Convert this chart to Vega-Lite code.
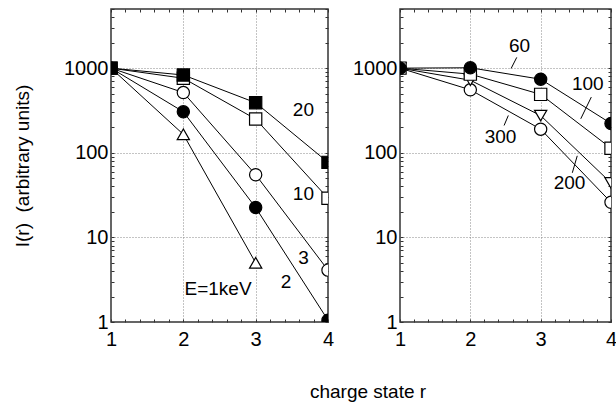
{
  "$schema": "https://vega.github.io/schema/vega-lite/v6.json",
  "padding": {"left": 12, "top": 7, "right": 3, "bottom": 5},
  "background": "white",
  "config": {
    "view": {"stroke": "#333", "strokeWidth": 1.5},
    "font": "Liberation Sans",
    "axis": {"labelFont": "Liberation Sans", "titleFont": "Liberation Sans", "labelColor": "black", "titleColor": "black"}
  },
  "title": {"text": "charge state r", "orient": "bottom", "anchor": "middle", "frame": "group", "offset": 33, "dx": 257, "fontSize": 19, "fontWeight": "normal", "font": "Liberation Sans", "color": "black"},
  "bounds": "flush",
  "spacing": 72,
  "datasets": {
    "pts": [
      {"panel": "L", "E": "1", "r": 1, "I": 1000}, {"panel": "L", "E": "1", "r": 2, "I": 165}, {"panel": "L", "E": "1", "r": 3, "I": 5.0},
      {"panel": "L", "E": "2", "r": 1, "I": 1000}, {"panel": "L", "E": "2", "r": 2, "I": 305}, {"panel": "L", "E": "2", "r": 3, "I": 22.5}, {"panel": "L", "E": "2", "r": 4, "I": 1.05},
      {"panel": "L", "E": "3", "r": 1, "I": 1000}, {"panel": "L", "E": "3", "r": 2, "I": 515}, {"panel": "L", "E": "3", "r": 3, "I": 55}, {"panel": "L", "E": "3", "r": 4, "I": 4.1},
      {"panel": "L", "E": "10", "r": 1, "I": 1000}, {"panel": "L", "E": "10", "r": 2, "I": 760}, {"panel": "L", "E": "10", "r": 3, "I": 250}, {"panel": "L", "E": "10", "r": 4, "I": 29},
      {"panel": "L", "E": "20", "r": 1, "I": 1000}, {"panel": "L", "E": "20", "r": 2, "I": 830}, {"panel": "L", "E": "20", "r": 3, "I": 390}, {"panel": "L", "E": "20", "r": 4, "I": 77},
      {"panel": "R", "E": "300", "r": 1, "I": 1000}, {"panel": "R", "E": "300", "r": 2, "I": 555}, {"panel": "R", "E": "300", "r": 3, "I": 190}, {"panel": "R", "E": "300", "r": 4, "I": 26},
      {"panel": "R", "E": "200", "r": 1, "I": 1000}, {"panel": "R", "E": "200", "r": 2, "I": 720}, {"panel": "R", "E": "200", "r": 3, "I": 275}, {"panel": "R", "E": "200", "r": 4, "I": 44},
      {"panel": "R", "E": "100", "r": 1, "I": 1000}, {"panel": "R", "E": "100", "r": 2, "I": 850}, {"panel": "R", "E": "100", "r": 3, "I": 490}, {"panel": "R", "E": "100", "r": 4, "I": 113},
      {"panel": "R", "E": "60", "r": 1, "I": 1000}, {"panel": "R", "E": "60", "r": 2, "I": 1010}, {"panel": "R", "E": "60", "r": 3, "I": 740}, {"panel": "R", "E": "60", "r": 4, "I": 222}
    ],
    "labs": [
      {"panel": "L", "x": 3.66, "y": 316, "t": "20"},
      {"panel": "L", "x": 3.66, "y": 32.8, "t": "10"},
      {"panel": "L", "x": 3.66, "y": 5.78, "t": "3"},
      {"panel": "L", "x": 3.42, "y": 2.99, "t": "2"},
      {"panel": "L", "x": 2.48, "y": 2.45, "t": "E=1keV"},
      {"panel": "R", "x": 2.70, "y": 1830, "t": "60"},
      {"panel": "R", "x": 3.67, "y": 646, "t": "100"},
      {"panel": "R", "x": 2.43, "y": 152, "t": "300"},
      {"panel": "R", "x": 3.41, "y": 44.3, "t": "200"}
    ],
    "leads": [
      {"panel": "R", "x": 2.66, "y": 1340, "x2": 2.58, "y2": 992},
      {"panel": "R", "x": 3.72, "y": 455, "x2": 3.57, "y2": 252},
      {"panel": "R", "x": 2.54, "y": 276, "x2": 2.48, "y2": 210},
      {"panel": "R", "x": 3.52, "y": 92, "x2": 3.45, "y2": 58}
    ]
  },
  "hconcat": [
    {
      "width": 217,
      "height": 313,
      "resolve": {"axis": {"x": "independent", "y": "independent"}},
      "layer": [
        {
          "data": {"name": "pts"},
          "transform": [{"filter": "datum.panel === 'L'"}],
          "mark": {"type": "line", "color": "black", "strokeWidth": 1, "clip": true},
          "encoding": {
            "x": {"field": "r", "type": "quantitative", "scale": {"domain": [1, 4], "nice": false, "zero": false},
              "axis": {"title": null, "values": [1, 1.2, 1.4, 1.6, 1.8, 2, 2.2, 2.4, 2.6, 2.8, 3, 3.2, 3.4, 3.6, 3.8, 4],
                "labelExpr": "indexof([1,2,3,4], datum.value) >= 0 ? format(datum.value, 'd') : ''",
                "labelFontSize": {"condition": {"test": "indexof([1,2,3,4], datum.value) >= 0", "value": 20}, "value": 0},
                "labelPadding": 10, "labelOverlap": false, "labelFlush": false,
                "domain": false, "tickColor": "#333", "tickSize": -3,
                "grid": true, "gridColor": "#888", "gridDash": [1, 2],
                "gridOpacity": {"condition": {"test": "indexof([2,3], datum.value) >= 0", "value": 1}, "value": 0}}},
            "y": {"field": "I", "type": "quantitative", "scale": {"type": "log", "domain": [1, 5000], "nice": false},
              "axis": {"title": "I(r) \u00a0(arbitrary units)", "titleFontSize": 19, "titleFontWeight": "normal", "titlePadding": 31,
                "values": [1, 2, 3, 4, 5, 6, 7, 8, 9, 10, 20, 30, 40, 50, 60, 70, 80, 90, 100, 200, 300, 400, 500, 600, 700, 800, 900, 1000, 2000, 3000, 4000, 5000],
                "labelExpr": "indexof([1,10,100,1000], datum.value) >= 0 ? format(datum.value, 'd') : ''",
                "labelFontSize": {"condition": {"test": "indexof([1,10,100,1000], datum.value) >= 0", "value": 20}, "value": 0},
                "labelPadding": 6, "labelOverlap": false, "labelFlush": false,
                "domain": false, "tickColor": "#333", "tickSize": -3,
                "grid": true, "gridColor": "#888", "gridDash": [1, 2],
                "gridOpacity": {"condition": {"test": "indexof([10,100,1000], datum.value) >= 0", "value": 1}, "value": 0}}},
            "detail": {"field": "E"},
            "order": {"field": "r"}
          }
        },
        {
          "data": {"name": "pts"},
          "transform": [{"filter": "datum.panel === 'L'"}],
          "mark": {"type": "point", "opacity": 0},
          "encoding": {
            "x": {"field": "r", "type": "quantitative",
              "axis": {"orient": "top", "title": null, "labels": false, "domain": false, "grid": false, "tickColor": "#333", "tickSize": -3, "minExtent": 0,
                "values": [1, 1.2, 1.4, 1.6, 1.8, 2, 2.2, 2.4, 2.6, 2.8, 3, 3.2, 3.4, 3.6, 3.8, 4]}},
            "y": {"field": "I", "type": "quantitative",
              "axis": {"orient": "right", "title": null, "labels": false, "domain": false, "grid": false, "tickColor": "#333", "tickSize": -3, "minExtent": 0,
                "values": [1, 2, 3, 4, 5, 6, 7, 8, 9, 10, 20, 30, 40, 50, 60, 70, 80, 90, 100, 200, 300, 400, 500, 600, 700, 800, 900, 1000, 2000, 3000, 4000, 5000]}}
          }
        },
        {
          "data": {"name": "pts"},
          "transform": [{"filter": "datum.panel === 'L'"}],
          "mark": {"type": "point", "filled": true, "stroke": "black", "strokeWidth": 1.2, "size": 150, "opacity": 1, "clip": true},
          "encoding": {
            "x": {"field": "r", "type": "quantitative", "axis": null},
            "y": {"field": "I", "type": "quantitative", "axis": null},
            "shape": {"field": "E", "type": "nominal", "legend": null,
              "scale": {"domain": ["20", "10", "3", "2", "1", "60", "100", "200", "300"], "range": ["square", "square", "circle", "circle", "triangle-up", "circle", "square", "triangle-down", "circle"]}},
            "fill": {"field": "E", "type": "nominal", "legend": null,
              "scale": {"domain": ["20", "10", "3", "2", "1", "60", "100", "200", "300"], "range": ["black", "white", "white", "black", "white", "black", "white", "white", "white"]}}
          }
        },
        {
          "data": {"name": "labs"},
          "transform": [{"filter": "datum.panel === 'L'"}],
          "mark": {"type": "text", "fontSize": 19, "font": "Liberation Sans", "color": "black", "align": "center", "baseline": "middle"},
          "encoding": {
            "x": {"field": "x", "type": "quantitative", "axis": null},
            "y": {"field": "y", "type": "quantitative", "axis": null},
            "text": {"field": "t"}
          }
        }
      ]
    },
    {
      "width": 211,
      "height": 313,
      "resolve": {"axis": {"x": "independent", "y": "independent"}},
      "layer": [
        {
          "data": {"name": "pts"},
          "transform": [{"filter": "datum.panel === 'R'"}],
          "mark": {"type": "line", "color": "black", "strokeWidth": 1, "clip": true},
          "encoding": {
            "x": {"field": "r", "type": "quantitative", "scale": {"domain": [1, 4], "nice": false, "zero": false},
              "axis": {"title": null, "values": [1, 1.2, 1.4, 1.6, 1.8, 2, 2.2, 2.4, 2.6, 2.8, 3, 3.2, 3.4, 3.6, 3.8, 4],
                "labelExpr": "indexof([1,2,3,4], datum.value) >= 0 ? format(datum.value, 'd') : ''",
                "labelFontSize": {"condition": {"test": "indexof([1,2,3,4], datum.value) >= 0", "value": 20}, "value": 0},
                "labelPadding": 10, "labelOverlap": false, "labelFlush": false,
                "domain": false, "tickColor": "#333", "tickSize": -3,
                "grid": true, "gridColor": "#888", "gridDash": [1, 2],
                "gridOpacity": {"condition": {"test": "indexof([2,3], datum.value) >= 0", "value": 1}, "value": 0}}},
            "y": {"field": "I", "type": "quantitative", "scale": {"type": "log", "domain": [1, 5000], "nice": false},
              "axis": {"title": null,
                "values": [1, 2, 3, 4, 5, 6, 7, 8, 9, 10, 20, 30, 40, 50, 60, 70, 80, 90, 100, 200, 300, 400, 500, 600, 700, 800, 900, 1000, 2000, 3000, 4000, 5000],
                "labelExpr": "indexof([1,10,100,1000], datum.value) >= 0 ? format(datum.value, 'd') : ''",
                "labelFontSize": {"condition": {"test": "indexof([1,10,100,1000], datum.value) >= 0", "value": 20}, "value": 0},
                "labelPadding": 6, "labelOverlap": false, "labelFlush": false,
                "domain": false, "tickColor": "#333", "tickSize": -3,
                "grid": true, "gridColor": "#888", "gridDash": [1, 2],
                "gridOpacity": {"condition": {"test": "indexof([10,100,1000], datum.value) >= 0", "value": 1}, "value": 0}}},
            "detail": {"field": "E"},
            "order": {"field": "r"}
          }
        },
        {
          "data": {"name": "pts"},
          "transform": [{"filter": "datum.panel === 'R'"}],
          "mark": {"type": "point", "opacity": 0},
          "encoding": {
            "x": {"field": "r", "type": "quantitative",
              "axis": {"orient": "top", "title": null, "labels": false, "domain": false, "grid": false, "tickColor": "#333", "tickSize": -3, "minExtent": 0,
                "values": [1, 1.2, 1.4, 1.6, 1.8, 2, 2.2, 2.4, 2.6, 2.8, 3, 3.2, 3.4, 3.6, 3.8, 4]}},
            "y": {"field": "I", "type": "quantitative",
              "axis": {"orient": "right", "title": null, "labels": false, "domain": false, "grid": false, "tickColor": "#333", "tickSize": -3, "minExtent": 0,
                "values": [1, 2, 3, 4, 5, 6, 7, 8, 9, 10, 20, 30, 40, 50, 60, 70, 80, 90, 100, 200, 300, 400, 500, 600, 700, 800, 900, 1000, 2000, 3000, 4000, 5000]}}
          }
        },
        {
          "data": {"name": "leads"},
          "transform": [{"filter": "datum.panel === 'R'"}],
          "mark": {"type": "rule", "color": "black", "strokeWidth": 1},
          "encoding": {
            "x": {"field": "x", "type": "quantitative", "axis": null},
            "y": {"field": "y", "type": "quantitative", "axis": null},
            "x2": {"field": "x2"},
            "y2": {"field": "y2"}
          }
        },
        {
          "data": {"name": "pts"},
          "transform": [{"filter": "datum.panel === 'R'"}],
          "mark": {"type": "point", "filled": true, "stroke": "black", "strokeWidth": 1.2, "size": 150, "opacity": 1, "clip": true},
          "encoding": {
            "x": {"field": "r", "type": "quantitative", "axis": null},
            "y": {"field": "I", "type": "quantitative", "axis": null},
            "shape": {"field": "E", "type": "nominal", "legend": null,
              "scale": {"domain": ["20", "10", "3", "2", "1", "60", "100", "200", "300"], "range": ["square", "square", "circle", "circle", "triangle-up", "circle", "square", "triangle-down", "circle"]}},
            "fill": {"field": "E", "type": "nominal", "legend": null,
              "scale": {"domain": ["20", "10", "3", "2", "1", "60", "100", "200", "300"], "range": ["black", "white", "white", "black", "white", "black", "white", "white", "white"]}}
          }
        },
        {
          "data": {"name": "labs"},
          "transform": [{"filter": "datum.panel === 'R'"}],
          "mark": {"type": "text", "fontSize": 19, "font": "Liberation Sans", "color": "black", "align": "center", "baseline": "middle"},
          "encoding": {
            "x": {"field": "x", "type": "quantitative", "axis": null},
            "y": {"field": "y", "type": "quantitative", "axis": null},
            "text": {"field": "t"}
          }
        }
      ]
    }
  ]
}
